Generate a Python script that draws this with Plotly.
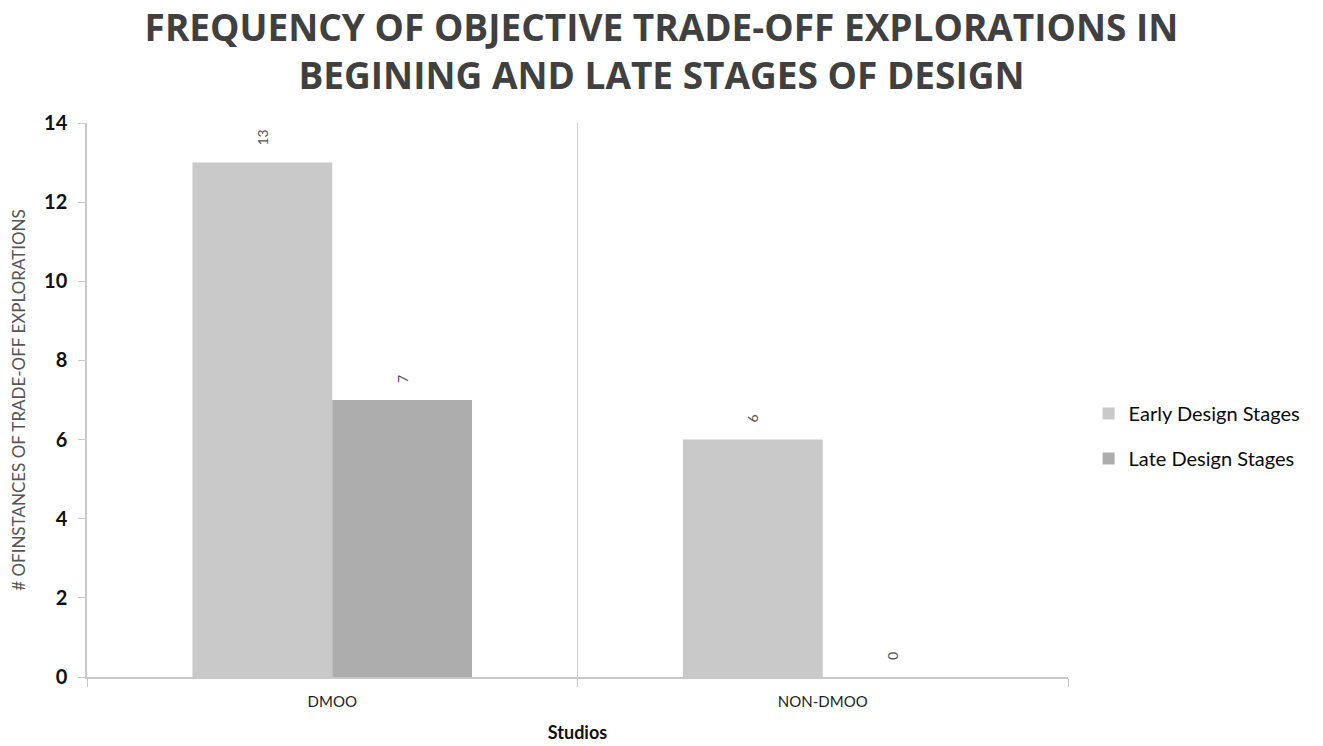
import plotly.graph_objects as go

categories = ["DMOO", "NON-DMOO"]
early = [13, 6]
late = [7, 0]
series_names = ["Early Design Stages", "Late Design Stages"]
colors = ["#c9c9c9", "#adadad"]

fig = go.Figure()
for name, vals, col in zip(series_names, [early, late], colors):
    fig.add_trace(go.Bar(
        x=categories, y=vals, name=name, marker_color=col,
        marker_line_width=0,
        texttemplate="\u2002\u2002%{y}", textposition="outside", textangle=-90,
        textfont=dict(family="Lato", size=14, color="#505050"),
        cliponaxis=False, legendgroup=name,
    ))

fig.update_layout(
    width=1323, height=746,
    paper_bgcolor="white", plot_bgcolor="white",
    margin=dict(l=87, r=255, t=123, b=69),
    barmode="group", bargap=0.43, bargroupgap=0,
    title=dict(
        text="FREQUENCY OF OBJECTIVE TRADE-OFF EXPLORATIONS IN<br>BEGINING AND LATE STAGES OF DESIGN",
        x=0.5, xref="container", xanchor="center", y=0.945, yref="container", yanchor="top",
        font=dict(family="Open Sans", size=37, color="#404040", weight="bold"),
    ),
    legend=dict(
        x=1.021, y=0.435, xanchor="left", yanchor="middle",
        font=dict(family="Lato", size=20, color="#0a0a0a"),
        tracegroupgap=16, itemwidth=30,
    ),
    showlegend=True,
)

fig.update_xaxes(
    type="category", automargin=False,
    showline=True, linecolor="#c8c8c8", linewidth=1.5,
    tickson="boundaries", ticks="outside", ticklen=8, tickcolor="#c8c8c8",
    ticklabelstandoff=10,
    showgrid=True, gridcolor="#d0d0d0", gridwidth=1.2,
    tickfont=dict(family="Lato", size=15, color="#222222"),
    title=dict(text="<b>Studios</b>", font=dict(family="Lato", size=18, color="#111111"), standoff=18),
)
fig.update_yaxes(
    range=[0, 14], dtick=2, showgrid=False, zeroline=False, automargin=False,
    showline=True, linecolor="#c8c8c8", linewidth=1.5,
    ticks="outside", ticklen=7, tickcolor="#c8c8c8",
    ticklabelstandoff=7,
    tickfont=dict(family="Lato", size=20, color="#111111", weight="bold"),
    title=dict(text="# OFINSTANCES OF TRADE-OFF EXPLORATIONS",
               font=dict(family="Lato", size=17, color="#555555"), standoff=14),
)

fig.write_html("out.html")
